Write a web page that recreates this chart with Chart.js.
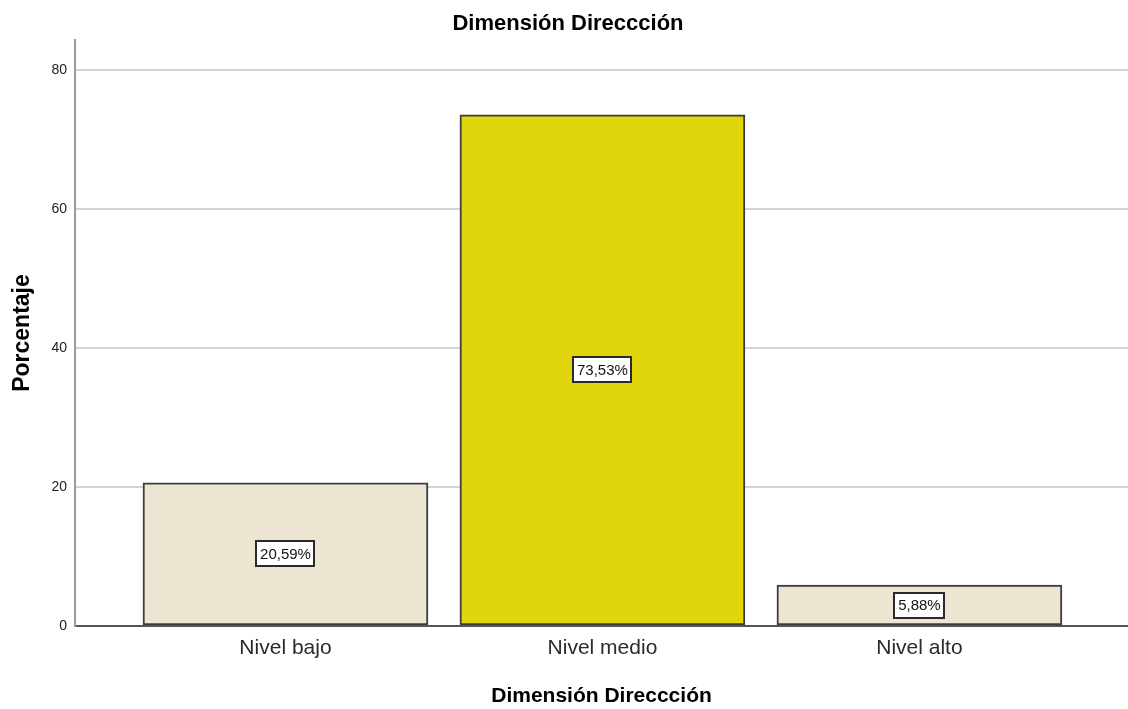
<!DOCTYPE html>
<html>
<head>
<meta charset="utf-8">
<script src="https://cdn.jsdelivr.net/npm/chart.js@4.4.1/dist/chart.umd.min.js"></script>
<style>
  html, body { margin: 0; padding: 0; background: #ffffff; }
  #wrap { width: 1128px; height: 709px; }
</style>
</head>
<body>
<div id="wrap"><canvas id="c" width="1128" height="709"></canvas></div>
<script>
// Data
const categories = ['Nivel bajo', 'Nivel medio', 'Nivel alto'];
const percentages = [20.59, 73.53, 5.88];
const barColors = ['#ebe5d1', '#e1d60d', '#ebe5d1'];
const yTicks = [0, 20, 40, 60, 80];
const chartTitle = 'Dimensión Direccción';
const xTitle = 'Dimensión Direccción';
const yTitle = 'Porcentaje';

const FONT = '"Liberation Sans", Arial, sans-serif';

// Value boxes drawn in the middle of each bar
const valueBoxes = {
  id: 'valueBoxes',
  afterDatasetsDraw(chart) {
    const ctx = chart.ctx;
    const meta = chart.getDatasetMeta(0);
    ctx.save();
    ctx.font = '15px ' + FONT;
    ctx.textAlign = 'center';
    ctx.textBaseline = 'middle';
    meta.data.forEach((bar, i) => {
      const txt = percentages[i].toFixed(2).replace('.', ',') + '%';
      const cx = bar.x;
      const cy = (bar.y + bar.base) / 2;
      const w = Math.round(ctx.measureText(txt).width + 7);
      const h = 25;
      const x0 = Math.round(cx - w / 2);
      const y0 = Math.round(cy - h / 2);
      ctx.fillStyle = '#ffffff';
      ctx.fillRect(x0, y0, w, h);
      ctx.strokeStyle = '#2a2a2a';
      ctx.lineWidth = 2;
      ctx.strokeRect(x0, y0, w, h);
      ctx.fillStyle = '#111111';
      ctx.fillText(txt, cx, cy + 1);
    });
    ctx.restore();
  }
};

// Chart heading
const heading = {
  id: 'heading',
  afterDraw(chart) {
    const ctx = chart.ctx;
    ctx.save();
    ctx.font = 'bold 22px ' + FONT;
    ctx.fillStyle = '#000000';
    ctx.textAlign = 'center';
    ctx.textBaseline = 'middle';
    ctx.fillText(chartTitle, 568, 24);
    ctx.restore();
  }
};

new Chart(document.getElementById('c'), {
  type: 'bar',
  data: {
    datasets: [{
      data: percentages.map((v, i) => ({ x: i, y: v })),
      backgroundColor: barColors,
      borderColor: '#3c3c3c',
      borderWidth: 2,
      borderSkipped: false,
      barThickness: 285,
      grouped: false
    }]
  },
  options: {
    responsive: false,
    animation: false,
    devicePixelRatio: 1,
    layout: { padding: { top: 40, right: 0, left: 0, bottom: 0 } },
    plugins: {
      legend: { display: false },
      tooltip: { enabled: false },
      title: { display: false }
    },
    scales: {
      x: {
        type: 'linear',
        offset: false,
        min: -0.664,
        max: 2.658,
        afterBuildTicks(scale) {
          scale.ticks = categories.map((c, i) => ({ value: i }));
        },
        afterFit(scale) { scale.height = 83; },
        ticks: {
          callback: (v) => categories[v] ?? '',
          font: { family: FONT, size: 21 },
          color: '#2a2a2a',
          padding: 10,
          autoSkip: false,
          maxRotation: 0
        },
        grid: { display: false, drawTicks: false, offset: false },
        border: { display: true, color: '#555555', width: 2 },
        title: {
          display: true,
          text: xTitle,
          font: { family: FONT, size: 21, weight: 'bold' },
          color: '#000000',
          padding: { top: 10, bottom: 0 }
        }
      },
      y: {
        min: 0,
        max: 84.3,
        afterBuildTicks(scale) {
          scale.ticks = yTicks.map(v => ({ value: v }));
        },
        afterFit(scale) { scale.width = 75; },
        ticks: {
          font: { family: FONT, size: 14 },
          color: '#222222',
          padding: 8
        },
        grid: { color: '#d3d3d3', lineWidth: 2, drawTicks: false },
        border: { display: true, color: '#9a9a9a', width: 2 },
        title: {
          display: true,
          text: yTitle,
          font: { family: FONT, size: 23, weight: 'bold' },
          color: '#000000',
          padding: { top: 9, bottom: 0 }
        }
      }
    }
  },
  plugins: [valueBoxes, heading]
});
</script>
</body>
</html>
